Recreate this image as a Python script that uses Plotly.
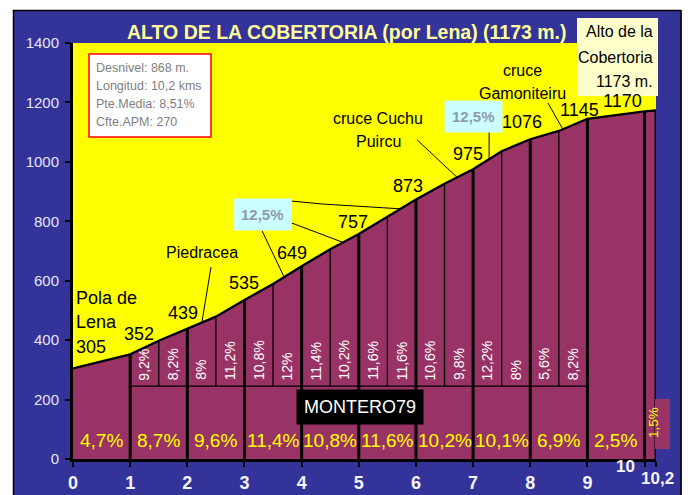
import plotly.graph_objects as go

# ---------------- data ----------------
km = [0, 1, 1.5, 2, 2.5, 3, 3.5, 4, 4.5, 5, 5.5, 6, 6.5, 7, 7.5, 8, 8.5, 9, 10, 10.2]
elev = [305, 352, 398, 439, 479, 535, 589, 649, 706, 757, 815, 873, 926, 975, 1036, 1076, 1104, 1145, 1170, 1173]

km_marks = [1, 2, 3, 4, 5, 6, 7, 8, 9, 10, 10.2]
half_marks = [1.5, 2.5, 3.5, 4.5, 5.5, 6.5, 7.5, 8.5]
split_base = 245          # altitude of the horizontal split line
split_range = [1, 9]

km_pct_x = [0.5, 1.5, 2.5, 3.5, 4.5, 5.5, 6.5, 7.5, 8.5, 9.5]
km_pct = ["4,7%", "8,7%", "9,6%", "11,4%", "10,8%", "11,6%", "10,2%", "10,1%", "6,9%", "2,5%"]

half_pct_x = [1.25, 1.75, 2.25, 2.75, 3.25, 3.75, 4.25, 4.75, 5.25, 5.75, 6.25, 6.75, 7.25, 7.75, 8.25, 8.75]
half_pct = ["9,2%", "8,2%", "8%", "11,2%", "10,8%", "12%", "11,4%", "10,2%",
            "11,6%", "11,6%", "10,6%", "9,8%", "12,2%", "8%", "5,6%", "8,2%"]

last_pct = "1,5%"

x_tickvals = [0, 1, 2, 3, 4, 5, 6, 7, 8, 9, 10, 10.2]
x_ticktext = ["0", "1", "2", "3", "4", "5", "6", "7", "8", "9", "", ""]
y_tickvals = [0, 200, 400, 600, 800, 1000, 1200, 1400]

stats = ["Desnivel: 868 m.", "Longitud: 10,2 kms", "Pte.Media: 8,51%", "Cfte.APM: 270"]

# ---------------- styling / layout helpers ----------------
W, H = 691, 495
L, R, T, B = 73, 35, 43, 36
PW, PH = W - L - R, H - T - B
FONT = "Arial, Liberation Sans, sans-serif"
MAROON = "#993366"
YELLOW = "#FFFF00"
BLUE = "#333399"


def pxx(x):
    return (x - L) / PW


def pxy(y):
    return (H - B - y) / PH


elev_at = dict(zip(km, elev))

fig = go.Figure()

# filled profile
fig.add_trace(go.Scatter(x=km, y=elev, mode="lines", fill="tozeroy",
                         fillcolor=MAROON, line=dict(color=MAROON, width=0),
                         hoverinfo="skip", showlegend=False))

# km lines (thick)
kx, ky = [], []
for k in km_marks:
    kx += [k, k, None]
    ky += [0, elev_at[k], None]
fig.add_trace(go.Scatter(x=kx, y=ky, mode="lines", line=dict(color="black", width=3),
                         hoverinfo="skip", showlegend=False, cliponaxis=False))

# half-km lines (thin) + split line
hx, hy = [], []
for k in half_marks:
    hx += [k, k, None]
    hy += [split_base, elev_at[k], None]
hx += [split_range[0], split_range[1], None]
hy += [split_base, split_base, None]
fig.add_trace(go.Scatter(x=hx, y=hy, mode="lines", line=dict(color="black", width=1.3),
                         hoverinfo="skip", showlegend=False))

# leader lines for callouts
leaders = [
    [(2.415, 646), (2.257, 462)],
    [(3.83, 868), (4.37, 858), (5.72, 842)],
    [(3.83, 794), (4.71, 730)],
    [(3.31, 767), (3.69, 614)],
    [(6.02, 1074), (6.72, 948)],
    [(7.28, 1104), (7.28, 1011)],
    [(8.31, 1198), (8.57, 1110)],
]
lx, ly = [], []
for seg in leaders:
    for (a, b) in seg:
        lx.append(a)
        ly.append(b)
    lx.append(None)
    ly.append(None)
fig.add_trace(go.Scatter(x=lx, y=ly, mode="lines", line=dict(color="black", width=1),
                         hoverinfo="skip", showlegend=False))

# profile outline
fig.add_trace(go.Scatter(x=km, y=elev, mode="lines", line=dict(color="black", width=2.3),
                         hoverinfo="skip", showlegend=False, cliponaxis=False))

ann = []

# elevation labels at each km
elev_label_shift = {0: (1, 21), 1: (9, 20), 2: (-4, 16), 3: (0, 17), 4: (-10, 13), 5: (-6, 12),
                    6: (-8, 14), 7: (-5, 15), 8: (-8, 17), 9: (-8, 9), 10: (-22, 10)}
for k, (dx, dy) in elev_label_shift.items():
    ann.append(dict(x=k, y=elev_at[k], xref="x", yref="y", text=str(elev_at[k]),
                    showarrow=False, xshift=dx, yshift=dy,
                    xanchor="left" if k == 0 else "center", yanchor="middle",
                    font=dict(family=FONT, size=18, color="black")))

# "Pola de / Lena"
for txt, yy in [("Pola de", 298), ("Lena", 322)]:
    ann.append(dict(x=pxx(74), y=pxy(yy), xref="paper", yref="paper", text=txt, showarrow=False,
                    xanchor="left", yanchor="middle", font=dict(family=FONT, size=18, color="black")))

# place names
for txt, cx, cy in [("Piedracea", 202, 252), ("cruce Cuchu", 378, 118), ("Puircu", 378, 141),
                    ("cruce", 522, 70), ("Gamoniteiru", 522, 93)]:
    ann.append(dict(x=pxx(cx), y=pxy(cy), xref="paper", yref="paper", text=txt, showarrow=False,
                    xanchor="center", yanchor="middle", font=dict(family=FONT, size=16, color="black")))

# 12,5% boxes
for cx, cy in [(262, 214), (473, 116)]:
    ann.append(dict(x=pxx(cx), y=pxy(cy), xref="paper", yref="paper", text="<b>12,5%</b>",
                    showarrow=False, xanchor="center", yanchor="middle", bgcolor="#CCFFFF",
                    borderpad=7, font=dict(family=FONT, size=15, color="#8C9AAE")))

# bottom km percentages
for xx, t in zip(km_pct_x, km_pct):
    ann.append(dict(x=xx, y=61, xref="x", yref="y", text=t, showarrow=False,
                    xanchor="center", yanchor="middle", font=dict(family=FONT, size=19, color=YELLOW)))

# half km percentages (rotated)
for xx, t in zip(half_pct_x, half_pct):
    ann.append(dict(x=xx, y=split_base, xref="x", yref="y", text=t, showarrow=False, textangle=-90,
                    xanchor="center", yanchor="bottom", yshift=4,
                    font=dict(family=FONT, size=14, color="white")))

# last segment percentage
ann.append(dict(x=10.2, y=121, xref="x", yref="y", text=last_pct, showarrow=False, textangle=-90,
                xanchor="center", yanchor="middle", xshift=-3,
                font=dict(family=FONT, size=13.5, color=YELLOW)))

# MONTERO79
ann.append(dict(x=pxx(360), y=pxy(407), xref="paper", yref="paper", text="MONTERO79", showarrow=False,
                xanchor="center", yanchor="middle", bgcolor="black", borderpad=7,
                font=dict(family=FONT, size=18, color="white")))

# stats box text
for i, t in enumerate(stats):
    ann.append(dict(x=pxx(94), y=pxy(68 + 18 * i), xref="paper", yref="paper", text=t, showarrow=False,
                    xanchor="left", yanchor="middle", font=dict(family=FONT, size=12.5, color="#808080")))

# summit box text
for t, yy in [("Alto de la", 32), ("Cobertoria", 57), ("1173 m.", 81)]:
    ann.append(dict(x=pxx(655), y=pxy(yy), xref="paper", yref="paper", text=t, showarrow=False,
                    xanchor="right", yanchor="middle", font=dict(family=FONT, size=16, color="black")))

# title
ann.append(dict(x=pxx(347), y=pxy(32), xref="paper", yref="paper",
                text="<b>ALTO DE LA COBERTORIA (por Lena) (1173 m.)</b>", showarrow=False,
                xanchor="center", yanchor="middle", font=dict(family=FONT, size=19.5, color="#FFFF99")))

# special x tick labels
for t, cx, cy in [("10", 625, 466), ("10,2", 657, 478)]:
    ann.append(dict(x=pxx(cx), y=pxy(cy), xref="paper", yref="paper", text="<b>%s</b>" % t, showarrow=False,
                    xanchor="center", yanchor="middle", font=dict(family=FONT, size=17, color="#F4F4FF")))

shapes = [
    # white margins outside the blue frame
    dict(type="rect", xref="paper", yref="paper", x0=pxx(0), x1=pxx(13), y0=pxy(H), y1=pxy(0),
         fillcolor="white", line=dict(width=0), layer="above"),
    dict(type="rect", xref="paper", yref="paper", x0=pxx(0), x1=pxx(W), y0=pxy(10), y1=pxy(0),
         fillcolor="white", line=dict(width=0), layer="above"),
    dict(type="rect", xref="paper", yref="paper", x0=pxx(681.5), x1=pxx(W), y0=pxy(H), y1=pxy(0),
         fillcolor="white", line=dict(width=0), layer="above"),
    dict(type="rect", xref="paper", yref="paper", x0=pxx(13.5), x1=pxx(681), y0=pxy(H + 5), y1=pxy(10.5),
         line=dict(color="black", width=1.5), layer="above"),
    # stats box
    dict(type="rect", xref="paper", yref="paper", x0=pxx(89), x1=pxx(211), y0=pxy(137), y1=pxy(54),
         fillcolor="white", line=dict(color="red", width=1.5), layer="above"),
    # summit box
    dict(type="rect", xref="paper", yref="paper", x0=pxx(577), x1=pxx(658), y0=pxy(96), y1=pxy(18),
         fillcolor="#FFFFCC", line=dict(width=0), layer="above"),
    # small box for last segment label
    dict(type="rect", xref="paper", yref="paper", x0=pxx(655), x1=pxx(670), y0=pxy(449), y1=pxy(399),
         fillcolor=MAROON, line=dict(width=0), layer="above"),
]

fig.update_layout(
    width=W, height=H,
    margin=dict(l=L, r=R, t=T, b=B, pad=0, autoexpand=False),
    paper_bgcolor=BLUE, plot_bgcolor=YELLOW,
    showlegend=False,
    annotations=ann, shapes=shapes,
    xaxis=dict(range=[0, 10.2], tickvals=x_tickvals, ticktext=x_ticktext, showgrid=False, zeroline=False,
               showline=True, linecolor="black", linewidth=3, ticks="outside", ticklen=5, tickwidth=2,
               tickcolor="black", tickfont=dict(family=FONT, size=18, color="#F4F4FF", weight="bold"),
               automargin=False, fixedrange=True),
    yaxis=dict(range=[0, 1400], tickvals=y_tickvals, showgrid=False, zeroline=False,
               showline=True, linecolor="black", linewidth=3, ticks="outside", ticklen=5, tickwidth=2,
               tickcolor="black", tickfont=dict(family=FONT, size=15, color="#E6E6FA"),
               ticklabelstandoff=3, automargin=False, fixedrange=True),
)

fig.write_html("out.html", config={"displayModeBar": False},
               post_script="document.body.style.margin='0';document.body.style.padding='0';")
